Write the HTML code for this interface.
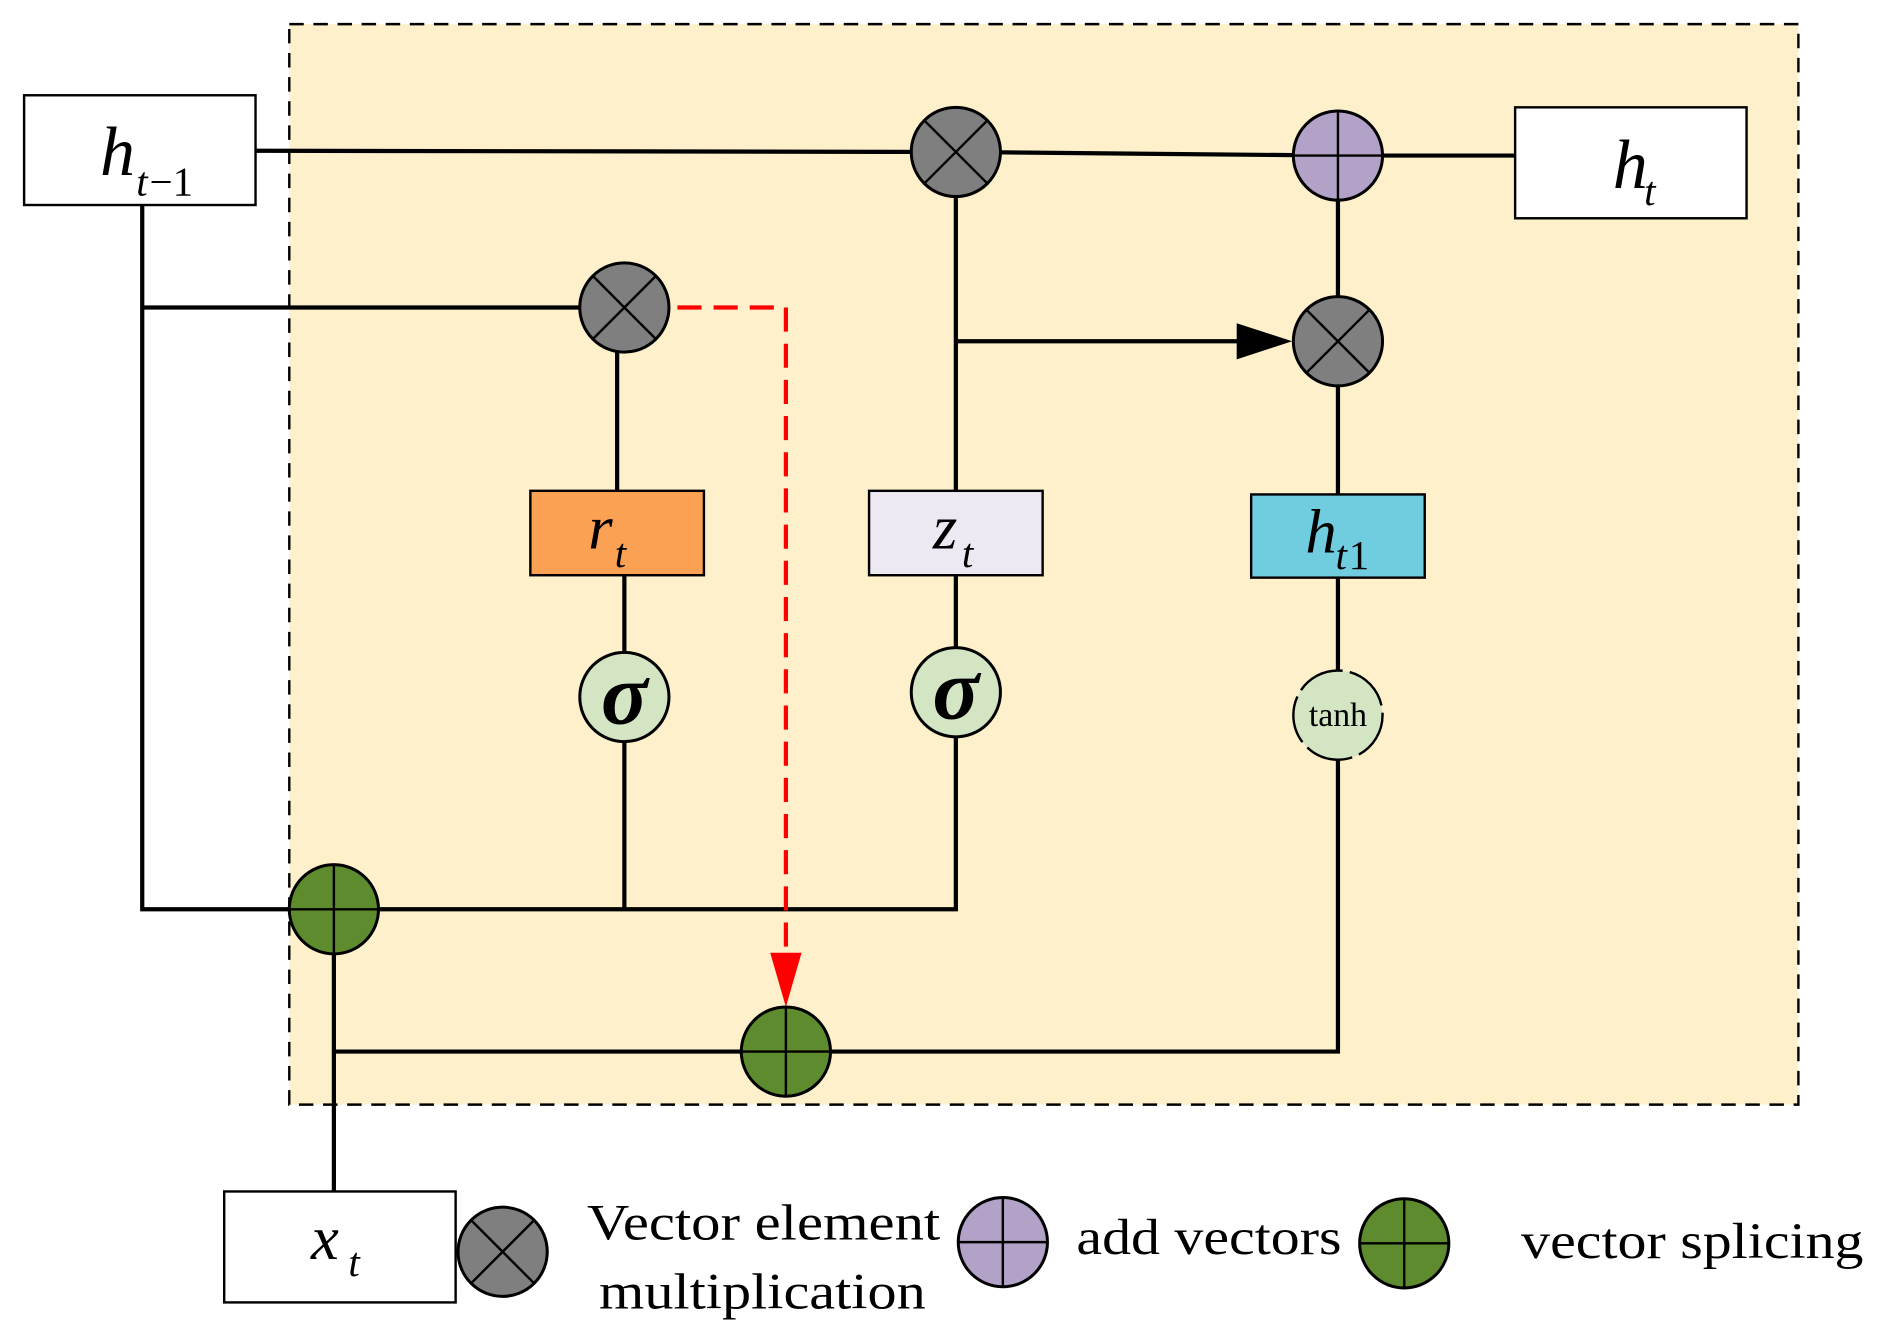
<!DOCTYPE html>
<html><head><meta charset="utf-8"><style>html,body{margin:0;padding:0;background:#fff}svg{display:block}</style></head>
<body>
<svg width="1890" height="1341" viewBox="0 0 1568 1112" preserveAspectRatio="none" xmlns="http://www.w3.org/2000/svg" font-family="Liberation Serif, serif">
<defs>
<g id="mul"><circle r="37" fill="#7f7f7f" stroke="#000" stroke-width="2.5"/><path d="M-26,-26L26,26M26,-26L-26,26" stroke="#000" stroke-width="2"/></g>
<g id="addp"><circle r="37" fill="#b3a2c7" stroke="#000" stroke-width="2.5"/><path d="M-37,0H37M0,-37V37" stroke="#000" stroke-width="2"/></g>
<g id="addg"><circle r="37" fill="#5f8b2f" stroke="#000" stroke-width="2.5"/><path d="M-37,0H37M0,-37V37" stroke="#000" stroke-width="2"/></g>
</defs>
<rect x="240" y="20" width="1252" height="896" fill="#fdf0cb" stroke="#000" stroke-width="2" stroke-dasharray="12,8"/>
<g stroke="#000" stroke-width="3.5" fill="none">
<path d="M212,125L793,126L1110,129L1257,129"/>
<path d="M118,170V754H793V611"/>
<path d="M118,255H481"/>
<path d="M512,292V407"/>
<path d="M518,477V541M518,615V754"/>
<path d="M793,163V407M793,477V537"/>
<path d="M793,283H1030"/>
<path d="M1110,166V246M1110,320V410M1110,479V556M1110,630V872H277"/>
<path d="M277,791V988"/>
</g>
<polygon points="1026,268 1072,283 1026,298" fill="#000"/>
<path d="M562,255H652V800" stroke="#f00" stroke-width="3.5" fill="none" stroke-dasharray="20,10"/>
<polygon points="639,790 665,790 652,835" fill="#f00"/>
<rect x="20" y="79" width="192" height="91" fill="#fff" stroke="#000" stroke-width="2"/>
<text x="83" y="145" font-size="58" font-style="italic">h</text><text x="113" y="162" font-size="34" font-style="italic">t</text><text x="124" y="162" font-size="34">−1</text>
<rect x="1257" y="89" width="192" height="92" fill="#fff" stroke="#000" stroke-width="2"/>
<text x="1338" y="156" font-size="58" font-style="italic">h</text><text x="1364" y="170" font-size="34" font-style="italic">t</text>
<rect x="186" y="988" width="192" height="92" fill="#fff" stroke="#000" stroke-width="2"/>
<text x="258" y="1044" font-size="52" font-style="italic">x</text><text x="289" y="1058" font-size="34" font-style="italic">t</text>
<rect x="440" y="407" width="144" height="70" fill="#fba154" stroke="#000" stroke-width="2"/>
<text x="488" y="455" font-size="52" font-style="italic">r</text><text x="510" y="470" font-size="34" font-style="italic">t</text>
<rect x="721" y="407" width="144" height="70" fill="#ede8f2" stroke="#000" stroke-width="2"/>
<text x="774" y="455" font-size="52" font-style="italic">z</text><text x="798" y="470" font-size="34" font-style="italic">t</text>
<rect x="1038" y="410" width="144" height="69" fill="#70cde0" stroke="#000" stroke-width="2"/>
<text x="1083" y="458" font-size="52" font-style="italic">h</text><text x="1108" y="472" font-size="34" font-style="italic">t</text><text x="1119" y="472" font-size="34">1</text>
<circle cx="518" cy="578" r="37" fill="#d4e5c4" stroke="#000" stroke-width="2.5"/>
<text x="518" y="600" font-size="72" font-style="italic" font-weight="bold" text-anchor="middle">σ</text>
<circle cx="793" cy="574" r="37" fill="#d4e5c4" stroke="#000" stroke-width="2.5"/>
<text x="793" y="596" font-size="72" font-style="italic" font-weight="bold" text-anchor="middle">σ</text>
<circle cx="1110" cy="593" r="37" fill="#d4e5c4" stroke="#000" stroke-width="2" stroke-dasharray="40,6"/>
<text x="1110" y="602" font-size="28" text-anchor="middle">tanh</text>
<use href="#mul" x="793" y="126"/>
<use href="#mul" x="518" y="255"/>
<use href="#mul" x="1110" y="283"/>
<use href="#addp" x="1110" y="129"/>
<use href="#addg" x="277" y="754"/>
<use href="#addg" x="652" y="872"/>
<use href="#mul" x="417" y="1038"/>
<use href="#addp" x="832" y="1030"/>
<use href="#addg" x="1165" y="1031"/>
<text x="487" y="1028" font-size="42" textLength="293" lengthAdjust="spacingAndGlyphs">Vector element</text>
<text x="497" y="1085" font-size="42" textLength="271" lengthAdjust="spacingAndGlyphs">multiplication</text>
<text x="893" y="1040" font-size="42" textLength="220" lengthAdjust="spacingAndGlyphs">add vectors</text>
<text x="1262" y="1043" font-size="42" textLength="284" lengthAdjust="spacingAndGlyphs">vector splicing</text>
</svg>
</body></html>
